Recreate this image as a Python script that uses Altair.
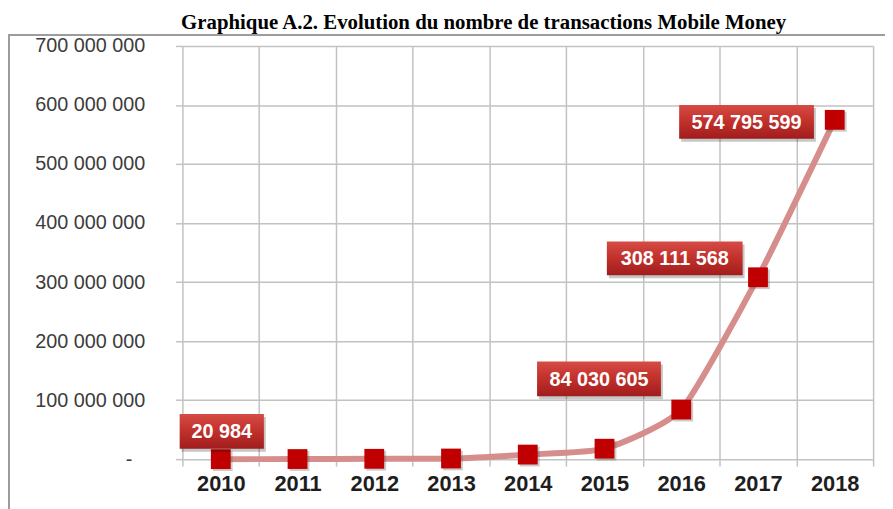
import altair as alt
import pandas as pd

# ---- data ----
years = ["2010", "2011", "2012", "2013", "2014", "2015", "2016", "2017", "2018"]
transactions = [20984, 200000, 600000, 1100000, 7800000, 17700000,
                84030605, 308111568, 574795599]
labelled_years = ["2010", "2016", "2017", "2018"]
y_ticks = [0, 100000000, 200000000, 300000000, 400000000,
           500000000, 600000000, 700000000]
title_text = "Graphique A.2. Evolution du nombre de transactions Mobile Money"

df = pd.DataFrame({"year": years, "value": transactions})

# ---- style ----
W, H = 697, 417
TOP = 36
GRID = "#c2c2c2"
# label box placement (pixel offsets from the point) and box size
label_style = {
    "2010": dict(dx=1, dy=-28, w=85, h=35),
    "2016": dict(dx=-83, dy=-31, w=125, h=35),
    "2017": dict(dx=-84, dy=-19, w=137, h=34),
    "2018": dict(dx=-89, dy=2, w=136, h=34),
}

x_enc = alt.X(
    "year:O",
    bandPosition=0.5,
    scale=alt.Scale(type="band", paddingInner=0, paddingOuter=0),
    axis=alt.Axis(
        title="", labelAngle=0, grid=True, gridColor=GRID, gridWidth=1.5,
        tickBand="extent", tickSize=7, tickColor=GRID, tickWidth=1.5,
        domain=False, labelFont="Liberation Sans", labelFontSize=22,
        labelFontWeight="bold", labelColor="#1e1e1e", labelPadding=8,
    ),
)
y_enc = alt.Y(
    "value:Q",
    scale=alt.Scale(domain=[0, 700000000], nice=False, zero=True),
    axis=alt.Axis(
        title="", values=y_ticks, grid=True, gridColor=GRID, gridWidth=1.5,
        tickSize=7, tickColor=GRID, tickWidth=1.5, domain=False,
        labelFont="Liberation Sans", labelFontSize=20, labelColor="#3c3c3c",
        labelPadding={"condition": {"test": "datum.value == 0", "value": 44},
                      "value": 31},
        labelExpr="datum.value == 0 ? '-' : "
                  "replace(format(datum.value, ','), regexp(',', 'g'), ' ')",
    ),
)

base = alt.Chart(df).encode(x=x_enc, y=y_enc)

frame = alt.Chart(pd.DataFrame({"k": [0]})).mark_rect(
    fillOpacity=0, stroke="#9c9c9c", strokeWidth=2
).encode(
    x=alt.value(-175), x2=alt.value(W + 40),
    y=alt.value(25 - TOP), y2=alt.value(H + 80),
)

title = alt.Chart(pd.DataFrame({"t": [title_text]})).mark_text(
    font="Liberation Serif", fontSize=21, fontWeight="bold",
    align="center", baseline="alphabetic", color="#000000",
).encode(x=alt.value(304), y=alt.value(19 - TOP), text="t:N")

line = base.mark_line(color="#d68e8d", strokeWidth=6,
                      interpolate="cardinal", tension=0.45)

marker_shadow = base.mark_square(
    size=400, color="#555555", opacity=0.3, xOffset=2, yOffset=2
)
markers = base.mark_square(size=400, color="#c00000", opacity=1)

box_fill = alt.LinearGradient(
    gradient="linear",
    stops=[
        alt.GradientStop(color="#d64b45", offset=0),
        alt.GradientStop(color="#c1302b", offset=0.5),
        alt.GradientStop(color="#a01d1d", offset=1),
    ],
    x1=0, x2=0, y1=0, y2=1,
)

label_layers = []
for yr in labelled_years:
    st = label_style[yr]
    r = st["h"] / st["w"]
    path = f"M-1,-{r:.4f}H1V{r:.4f}H-1Z"
    lb = base.transform_filter(alt.datum.year == yr)
    shadow = lb.mark_point(
        shape=path, size=st["w"] ** 2, filled=True, fill="#000000",
        opacity=0.22, strokeWidth=0,
        xOffset=st["dx"] + 2, yOffset=st["dy"] + 3,
    )
    box = lb.mark_point(
        shape=path, size=st["w"] ** 2, filled=True, fill=box_fill,
        opacity=1, strokeWidth=0, xOffset=st["dx"], yOffset=st["dy"],
    )
    txt = lb.transform_calculate(
        lab="replace(format(datum.value, ','), regexp(',', 'g'), ' ')"
    ).mark_text(
        font="Liberation Sans", fontSize=20, fontWeight="bold",
        color="#ffffff", align="center", baseline="middle",
        dx=st["dx"], dy=st["dy"] + 1,
    ).encode(text="lab:N")
    label_layers += [shadow, box, txt]

chart = alt.layer(
    frame, line, marker_shadow, markers, *label_layers, title
).properties(
    width=W, height=H,
    autosize=alt.AutoSizeParams(type="none"),
    padding={"left": 176, "top": TOP, "right": 12, "bottom": 48},
).configure_view(strokeWidth=0)

chart.save("out.html", embed_options={"renderer": "svg", "actions": False})
